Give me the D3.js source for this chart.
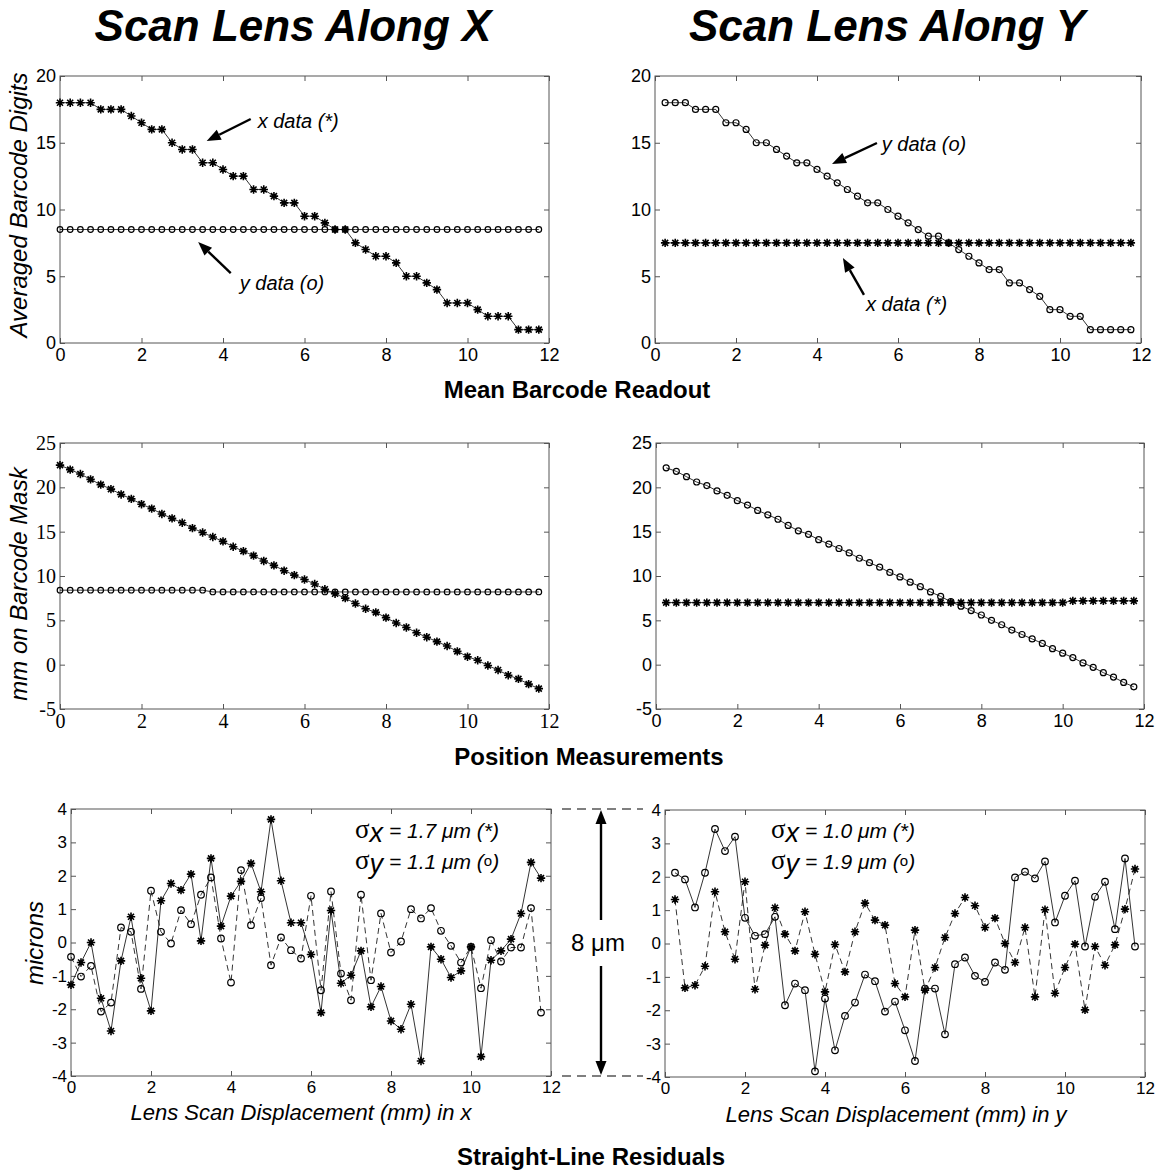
<!DOCTYPE html>
<html>
<head>
<meta charset="utf-8">
<script src="https://cdn.jsdelivr.net/npm/d3@7"></script>
<style>
body { margin: 0; background: #fff; }
svg { display: block; }
</style>
</head>
<body>
<svg id="fig" width="1161" height="1173"></svg>
<script>
// lens scan positions in mm (0.25 mm steps)
var scanPos = [0, 0.25, 0.5, 0.75, 1, 1.25, 1.5, 1.75, 2, 2.25, 2.5, 2.75, 3, 3.25, 3.5, 3.75,
  4, 4.25, 4.5, 4.75, 5, 5.25, 5.5, 5.75, 6, 6.25, 6.5, 6.75, 7, 7.25, 7.5, 7.75,
  8, 8.25, 8.5, 8.75, 9, 9.25, 9.5, 9.75, 10, 10.25, 10.5, 10.75, 11, 11.25, 11.5, 11.75]
// the Y scan starts one step later
var scanPosY = scanPos.slice(1)

// mean barcode readout, scan along X
var readoutXalongX = [18, 18, 18, 18, 17.5, 17.5, 17.5, 17, 16.5, 16, 16, 15, 14.5, 14.5, 13.5, 13.5,
  13, 12.5, 12.5, 11.5, 11.5, 11, 10.5, 10.5, 9.5, 9.5, 9, 8.5, 8.5, 7.5, 7, 6.5,
  6.5, 6, 5, 5, 4.5, 4, 3, 3, 3, 2.5, 2, 2, 2, 1, 1, 1]
var readoutYalongX = [8.5, 8.5, 8.5, 8.5, 8.5, 8.5, 8.5, 8.5, 8.5, 8.5, 8.5, 8.5, 8.5, 8.5, 8.5, 8.5,
  8.5, 8.5, 8.5, 8.5, 8.5, 8.5, 8.5, 8.5, 8.5, 8.5, 8.5, 8.5, 8.5, 8.5, 8.5, 8.5,
  8.5, 8.5, 8.5, 8.5, 8.5, 8.5, 8.5, 8.5, 8.5, 8.5, 8.5, 8.5, 8.5, 8.5, 8.5, 8.5]

// mean barcode readout, scan along Y
var readoutYalongY = [18, 18, 18, 17.5, 17.5, 17.5, 16.5, 16.5, 16, 15, 15, 14.5, 14, 13.5, 13.5, 13,
  12.5, 12, 11.5, 11, 10.5, 10.5, 10, 9.5, 9, 8.5, 8, 8, 7.5, 7, 6.5, 6,
  5.5, 5.5, 4.5, 4.5, 4, 3.5, 2.5, 2.5, 2, 2, 1, 1, 1, 1, 1]
var readoutXalongY = [7.5, 7.5, 7.5, 7.5, 7.5, 7.5, 7.5, 7.5, 7.5, 7.5, 7.5, 7.5, 7.5, 7.5, 7.5, 7.5,
  7.5, 7.5, 7.5, 7.5, 7.5, 7.5, 7.5, 7.5, 7.5, 7.5, 7.5, 7.5, 7.5, 7.5, 7.5, 7.5,
  7.5, 7.5, 7.5, 7.5, 7.5, 7.5, 7.5, 7.5, 7.5, 7.5, 7.5, 7.5, 7.5, 7.5, 7.5]

// position on barcode mask (mm), scan along X
var maskXalongX = [22.5, 22.0, 21.5, 20.9, 20.3, 19.8, 19.2, 18.7, 18.1, 17.6, 17.0, 16.5, 16.0, 15.4, 14.9, 14.4,
  13.9, 13.3, 12.8, 12.3, 11.7, 11.2, 10.6, 10.1, 9.6, 9.1, 8.5, 8.0, 7.5, 6.9, 6.3, 5.9,
  5.3, 4.7, 4.2, 3.6, 3.1, 2.6, 2.1, 1.5, 0.9, 0.5, -0.1, -0.6, -1.2, -1.6, -2.2, -2.7]
var maskYalongX = [8.4, 8.4, 8.4, 8.4, 8.4, 8.4, 8.4, 8.4, 8.4, 8.4, 8.4, 8.4, 8.4, 8.4, 8.4, 8.2,
  8.2, 8.2, 8.2, 8.2, 8.2, 8.2, 8.2, 8.2, 8.2, 8.2, 8.2, 8.2, 8.2, 8.2, 8.2, 8.2,
  8.2, 8.2, 8.2, 8.2, 8.2, 8.2, 8.2, 8.2, 8.2, 8.2, 8.2, 8.2, 8.2, 8.2, 8.2, 8.2]

// position on barcode mask (mm), scan along Y
var maskYalongY = [22.2, 21.8, 21.2, 20.6, 20.2, 19.6, 19.1, 18.5, 18.0, 17.4, 16.9, 16.4, 15.7, 15.1, 14.7, 14.1,
  13.6, 13.1, 12.6, 12.0, 11.5, 11.0, 10.4, 9.9, 9.3, 8.8, 8.2, 7.7, 7.1, 6.6, 6.1, 5.6,
  5.0, 4.5, 3.9, 3.4, 2.9, 2.4, 1.8, 1.3, 0.8, 0.2, -0.3, -0.9, -1.4, -2.0, -2.5]
var maskXalongY = [7.0, 7.0, 7.0, 7.0, 7.0, 7.0, 7.0, 7.0, 7.0, 7.0, 7.0, 7.0, 7.0, 7.0, 7.0, 7.0,
  7.0, 7.0, 7.0, 7.0, 7.0, 7.0, 7.0, 7.0, 7.0, 7.0, 7.0, 7.0, 7.0, 7.0, 7.0, 7.0,
  7.0, 7.0, 7.0, 7.0, 7.0, 7.0, 7.0, 7.0, 7.2, 7.2, 7.2, 7.2, 7.2, 7.2, 7.2]

// straight-line residuals (microns), scan along X
var residXalongX = [-1.27, -0.6, 0.0, -1.67, -2.65, -0.55, 0.77, -1.07, -2.05, 1.25, 1.77, 1.57, 2.05, 0.05, 2.52, 0.49,
  1.39, 1.83, 2.37, 1.52, 3.69, 1.85, 0.59, 0.59, -0.36, -2.1, 0.96, -1.22, -0.98, -0.25, -1.93, -1.32,
  -2.35, -2.6, -1.85, -3.55, -0.13, -0.5, -1.05, -0.85, -0.13, -3.42, -0.53, -0.25, 0.1, 0.87, 2.4, 1.93]
var residYalongX = [-0.43, -1.02, -0.7, -2.07, -1.8, 0.45, 0.32, -1.39, 1.55, 0.32, -0.03, 0.97, 0.55, 1.43, 1.95, 0.12,
  -1.2, 2.17, 0.52, 1.33, -0.68, 0.15, -0.23, -0.48, 1.4, -1.43, 1.53, -0.93, -1.73, 1.43, -1.13, 0.87,
  -0.3, 0.03, 1.0, 0.72, 1.03, 0.35, -0.1, -0.6, -0.13, -1.37, 0.07, -0.57, -0.15, -0.15, 1.03, -2.1]

// straight-line residuals (microns), scan along Y
var residYalongY = [2.12, 1.92, 1.08, 2.12, 3.43, 2.77, 3.2, 0.77, 0.23, 0.28, 0.8, -1.85, -1.2, -1.4, -3.83, -1.65,
  -3.2, -2.17, -1.77, -0.93, -1.13, -2.04, -1.74, -2.6, -3.52, -1.35, -1.35, -2.72, -0.62, -0.42, -0.97, -1.15,
  -0.57, -0.79, 1.98, 2.15, 1.95, 2.46, 0.63, 1.43, 1.88, -0.09, 1.4, 1.85, 0.43, 2.55, -0.09]
var residXalongY = [1.32, -1.33, -1.25, -0.68, 1.55, 0.35, -0.47, 1.85, -1.37, -0.05, 1.07, 0.28, -0.22, 0.95, -0.32, -1.45,
  -0.03, -0.85, 0.35, 1.21, 0.7, 0.55, -1.2, -1.6, 0.4, -1.4, -0.72, 0.18, 0.9, 1.38, 1.13, 0.48,
  0.76, 0.0, -0.57, 0.48, -1.6, 1.01, -1.49, -0.72, -0.02, -1.99, -0.09, -0.65, -0.04, 1.03, 2.23]

// tick values
var xTicks = [0, 2, 4, 6, 8, 10, 12]
var readoutTicks = [0, 5, 10, 15, 20]
var maskTicks = [-5, 0, 5, 10, 15, 20, 25]
var residTicks = [-4, -3, -2, -1, 0, 1, 2, 3, 4]

var SANS = "'Liberation Sans', Arial, Helvetica, sans-serif"
var SERIF = "'Liberation Serif', 'Times New Roman', serif"
var svg = d3.select("#fig")

function zip(xs, ys) {
  var out = []
  for (var i = 0; i < xs.length; i++) out.push([xs[i], ys[i]])
  return out
}

function styleAxis(sel, font, size) {
  sel.attr("font-family", null).attr("font-size", null)
  sel.select(".domain").remove()
  sel.selectAll("line").attr("stroke", "#555").attr("stroke-width", 1)
  sel.selectAll("text").style("font-family", font).style("font-size", size + "px").attr("fill", "#000")
}

function makePanel(box, yDomain, yTicks, font, fontSize) {
  var x = d3.scaleLinear().domain([0, 12]).range([box.l, box.r])
  var y = d3.scaleLinear().domain(yDomain).range([box.b, box.t])
  var g = svg.append("g")
  var fmt = function(d) { return String(d) }

  g.append("g").attr("transform", "translate(0," + box.b + ")")
    .call(d3.axisBottom(x).tickValues(xTicks).tickSizeInner(-5).tickSizeOuter(0).tickPadding(5).tickFormat(fmt))
    .call(styleAxis, font, fontSize)
  g.append("g").attr("transform", "translate(0," + box.t + ")")
    .call(d3.axisTop(x).tickValues(xTicks).tickSizeInner(-5).tickSizeOuter(0).tickFormat(""))
    .call(styleAxis, font, fontSize)
  g.append("g").attr("transform", "translate(" + box.l + ",0)")
    .call(d3.axisLeft(y).tickValues(yTicks).tickSizeInner(-5).tickSizeOuter(0).tickPadding(4).tickFormat(fmt))
    .call(styleAxis, font, fontSize)
  g.append("g").attr("transform", "translate(" + box.r + ",0)")
    .call(d3.axisRight(y).tickValues(yTicks).tickSizeInner(-5).tickSizeOuter(0).tickFormat(""))
    .call(styleAxis, font, fontSize)

  g.append("rect")
    .attr("x", box.l).attr("y", box.t)
    .attr("width", box.r - box.l).attr("height", box.b - box.t)
    .attr("fill", "none").attr("stroke", "#555").attr("stroke-width", 1)

  return {g: g, x: x, y: y}
}

var starPath = "M-4.2,0H4.2M0,-4.2V4.2M-3,-3L3,3M-3,3L3,-3"

function series(p, xs, ys, marker, dashed, r) {
  var data = zip(xs, ys)
  var line = d3.line().x(function(d) { return p.x(d[0]) }).y(function(d) { return p.y(d[1]) })
  p.g.append("path").datum(data)
    .attr("d", line)
    .attr("fill", "none")
    .attr("stroke", "#000")
    .attr("stroke-width", 0.8)
    .attr("stroke-dasharray", dashed ? "6,4" : null)
  if (marker == "star") {
    p.g.selectAll(null).data(data).enter().append("path")
      .attr("d", starPath)
      .attr("transform", function(d) { return "translate(" + p.x(d[0]) + "," + p.y(d[1]) + ")" })
      .attr("fill", "none").attr("stroke", "#000").attr("stroke-width", 1.6)
  } else {
    p.g.selectAll(null).data(data).enter().append("circle")
      .attr("cx", function(d) { return p.x(d[0]) })
      .attr("cy", function(d) { return p.y(d[1]) })
      .attr("r", r)
      .attr("fill", "none").attr("stroke", "#000").attr("stroke-width", 1.2)
  }
}

function arrow(x1, y1, x2, y2) {
  var a = Math.atan2(y2 - y1, x2 - x1)
  var len = 14, hw = 5.5
  var bx = x2 - len * Math.cos(a), by = y2 - len * Math.sin(a)
  svg.append("line").attr("x1", x1).attr("y1", y1).attr("x2", bx).attr("y2", by)
    .attr("stroke", "#000").attr("stroke-width", 2.4)
  svg.append("path")
    .attr("d", "M" + x2 + "," + y2 +
      "L" + (bx + hw * Math.sin(a)) + "," + (by - hw * Math.cos(a)) +
      "L" + (bx - hw * Math.sin(a)) + "," + (by + hw * Math.cos(a)) + "Z")
    .attr("fill", "#000")
}

function label(x, y, txt, size, opts) {
  opts = opts || {}
  var t = svg.append("text").attr("x", x).attr("y", y)
    .attr("font-family", opts.font || SANS)
    .attr("font-size", size)
    .attr("font-weight", opts.bold ? "bold" : "normal")
    .attr("font-style", opts.italic ? "italic" : "normal")
    .attr("text-anchor", opts.anchor || "start")
    .text(txt)
  if (opts.rotate) t.attr("transform", "rotate(-90," + x + "," + y + ")")
  return t
}

// ---- panels ----
var p1 = makePanel({l: 60, r: 549, t: 76, b: 343}, [0, 20], readoutTicks, SANS, 18)
series(p1, scanPos, readoutYalongX, "circle", false, 2.8)
series(p1, scanPos, readoutXalongX, "star", false)

var p2 = makePanel({l: 655, r: 1141, t: 76, b: 343}, [0, 20], readoutTicks, SANS, 18)
series(p2, scanPosY, readoutXalongY, "star", false)
series(p2, scanPosY, readoutYalongY, "circle", false, 3)

var p3 = makePanel({l: 60, r: 549, t: 443, b: 709}, [-5, 25], maskTicks, SERIF, 20)
series(p3, scanPos, maskYalongX, "circle", false, 2.8)
series(p3, scanPos, maskXalongX, "star", false)

var p4 = makePanel({l: 656, r: 1144, t: 443, b: 709}, [-5, 25], maskTicks, SANS, 18)
series(p4, scanPosY, maskXalongY, "star", false)
series(p4, scanPosY, maskYalongY, "circle", false, 3)

var p5 = makePanel({l: 71, r: 551, t: 809, b: 1076}, [-4, 4], residTicks, SANS, 17)
series(p5, scanPos, residYalongX, "circle", true, 3.3)
series(p5, scanPos, residXalongX, "star", false)

var p6 = makePanel({l: 665, r: 1145, t: 810, b: 1077}, [-4, 4], residTicks, SANS, 17)
series(p6, scanPosY, residXalongY, "star", true)
series(p6, scanPosY, residYalongY, "circle", false, 3.3)

// ---- titles ----
label(293, 41, "Scan Lens Along X", 44, {bold: true, italic: true, anchor: "middle"})
label(887, 41, "Scan Lens Along Y", 44, {bold: true, italic: true, anchor: "middle"})
label(577, 398, "Mean Barcode Readout", 24, {bold: true, anchor: "middle"})
label(589, 765, "Position Measurements", 24, {bold: true, anchor: "middle"})
label(591, 1165, "Straight-Line Residuals", 24, {bold: true, anchor: "middle"})

label(27, 205, "Averaged Barcode Digits", 24, {italic: true, anchor: "middle", rotate: true})
label(27, 584, "mm on Barcode Mask", 24, {italic: true, anchor: "middle", rotate: true})
label(43, 943, "microns", 24, {italic: true, anchor: "middle", rotate: true})

label(p5.x(6) - 10, 1120, "Lens Scan Displacement (mm) in x", 22, {italic: true, anchor: "middle"})
label(p6.x(6) - 9, 1122, "Lens Scan Displacement (mm) in y", 22, {italic: true, anchor: "middle"})

// ---- annotations, top row ----
label(p1.x(4.85), p1.y(16.1), "x data (*)", 20, {italic: true})
arrow(p1.x(4.68), p1.y(16.78), p1.x(3.6), p1.y(15.13))
label(p1.x(4.41), p1.y(3.97), "y data (o)", 20, {italic: true})
arrow(p1.x(4.19), p1.y(5.24), p1.x(3.39), p1.y(7.57))

label(p2.x(5.6), p2.y(14.4), "y data (o)", 20, {italic: true})
arrow(p2.x(5.48), p2.y(14.98), p2.x(4.37), p2.y(13.41))
label(p2.x(5.21), p2.y(2.4), "x data (*)", 20, {italic: true})
arrow(p2.x(5.16), p2.y(3.6), p2.x(4.64), p2.y(6.37))

// ---- sigma annotations, bottom row ----
function sigma(x, y, sub, rest, mark) {
  var t = svg.append("text").attr("x", x).attr("y", y).attr("font-size", 21)
  t.append("tspan").attr("font-family", SERIF).attr("font-size", 27).text("\u03C3")
  t.append("tspan").attr("font-family", SANS).attr("font-style", "italic").attr("font-size", 27).attr("dy", 4).text(sub)
  t.append("tspan").attr("font-family", SANS).attr("font-style", "italic").attr("dy", -4).text(" = " + rest + " (")
  if (mark == "o") {
    t.append("tspan").attr("font-family", SANS).attr("font-size", 15).attr("dy", -3).text("o")
    t.append("tspan").attr("font-family", SANS).attr("font-style", "italic").attr("dy", 3).text(")")
  } else {
    t.append("tspan").attr("font-family", SANS).attr("font-style", "italic").text("*)")
  }
}
sigma(355, 838, "x", "1.7 \u03BCm", "*")
sigma(355, 869, "y", "1.1 \u03BCm", "o")
sigma(771, 838, "x", "1.0 \u03BCm", "*")
sigma(771, 869, "y", "1.9 \u03BCm", "o")

// ---- 8 micron span marker between the residual panels ----
var spanX = 601
;[4, -4].forEach(function(v) {
  svg.append("line")
    .attr("x1", 562).attr("x2", 643)
    .attr("y1", p5.y(v)).attr("y2", p5.y(v))
    .attr("stroke", "#000").attr("stroke-width", 1.2)
    .attr("stroke-dasharray", "9,6")
})
arrow(spanX, 920, spanX, p5.y(4) + 1)
arrow(spanX, 966, spanX, p5.y(-4) - 1)
label(spanX - 3, 951, "8 \u03BCm", 24, {anchor: "middle"})
</script>
</body>
</html>
